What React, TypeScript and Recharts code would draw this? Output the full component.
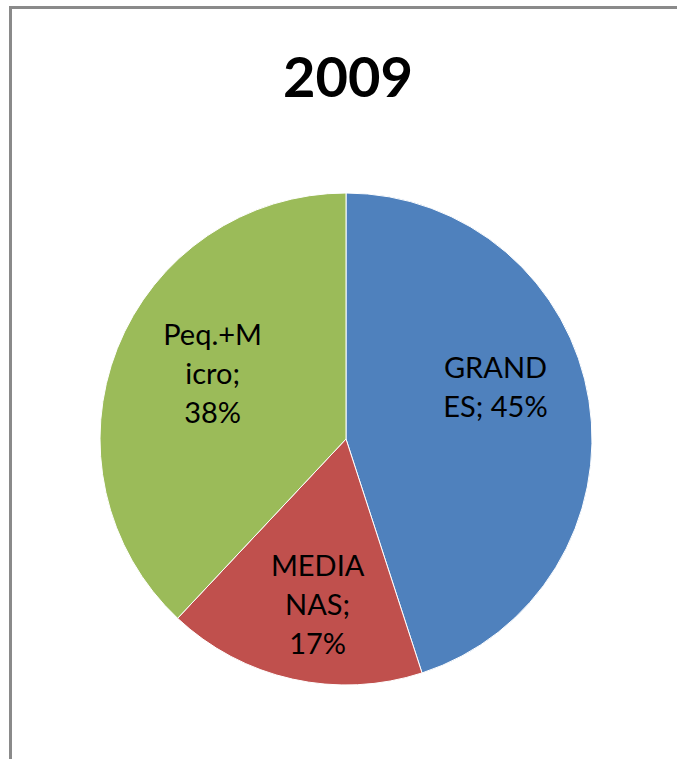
import { PieChart, Pie, Cell } from "recharts";

const categories = ["GRANDES", "MEDIANAS", "Peq.+Micro"];
const shares = [45, 17, 38];
// Excel wrapped the labels inside the slices like this
const labelLines = [
	["GRAND", "ES; 45%"],
	["MEDIA", "NAS;", "17%"],
	["Peq.+M", "icro;", "38%"],
];
const colors = ["#4F81BD", "#C0504D", "#9BBB59"];
// small nudges so the labels sit where Excel put them
const labelNudge = [
	[-6, -29],
	[6, 10],
	[13, -9],
];

const data = categories.map((name, i) => ({ name, value: shares[i] }));

const RADIAN = Math.PI / 180;
const FONT = "Lato, Calibri, 'Open Sans', sans-serif";

const renderLabel = (props: any) => {
	const { cx, cy, midAngle, outerRadius, index } = props;
	const r = outerRadius * 0.64;
	const x = cx + r * Math.cos(-midAngle * RADIAN) + labelNudge[index][0];
	const y = cy + r * Math.sin(-midAngle * RADIAN) + labelNudge[index][1];
	const lines = labelLines[index];
	const lh = 39;
	const top = y - ((lines.length - 1) * lh) / 2;
	return (
		<text
			x={x}
			y={top}
			textAnchor="middle"
			dominantBaseline="central"
			fill="#000"
			fontSize={29}
			fontFamily={FONT}
		>
			{lines.map((l, i) => (
				<tspan key={i} x={x} y={top + i * lh}>
					{l}
				</tspan>
			))}
		</text>
	);
};

export default function App() {
	return (
		<div style={{ position: "absolute", left: 0, top: 0, width: 677, height: 759, background: "#fff", overflow: "hidden" }}>
			<div
				style={{
					position: "absolute",
					left: 9,
					top: 6,
					width: 700,
					height: 800,
					borderLeft: "3px solid #8a8a8a",
					borderTop: "3px solid #8a8a8a",
				}}
			/>
			<div
				style={{
					position: "absolute",
					left: 0,
					top: 38,
					width: 696,
					textAlign: "center",
					fontFamily: FONT,
					fontWeight: 700,
					fontSize: 56,
					lineHeight: "76px",
					color: "#000",
				}}
			>
				2009
			</div>
			<div style={{ position: "absolute", left: 0, top: 0 }}>
				<PieChart width={677} height={759} margin={{ top: 0, right: 0, bottom: 0, left: 0 }}>
					<Pie
						data={data}
						dataKey="value"
						nameKey="name"
						cx={346}
						cy={439}
						outerRadius={246}
						startAngle={90}
						endAngle={-270}
						stroke="#fff"
						strokeWidth={1}
						label={renderLabel}
						labelLine={false}
						isAnimationActive={false}
					>
						{data.map((d, i) => (
							<Cell key={d.name} fill={colors[i]} />
						))}
					</Pie>
				</PieChart>
			</div>
		</div>
	);
}
